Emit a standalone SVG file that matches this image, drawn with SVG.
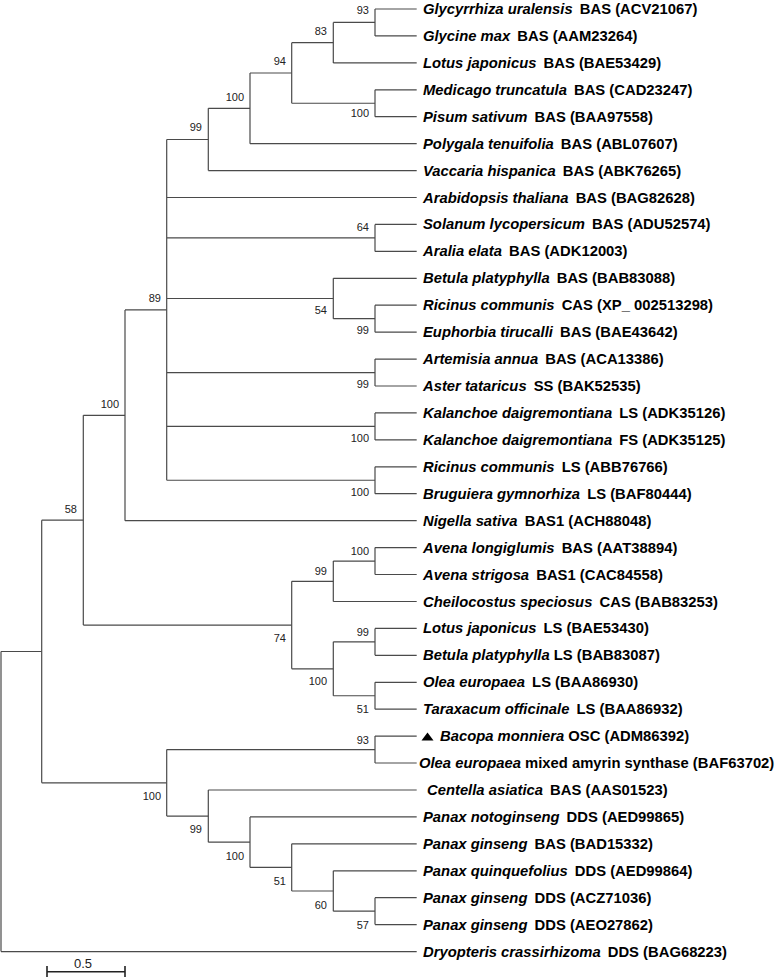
<svg xmlns="http://www.w3.org/2000/svg" width="780" height="977" viewBox="0 0 780 977">
<style>
.t{font-family:"Liberation Sans",Arial,Helvetica,sans-serif;font-weight:bold;font-size:14.8px;fill:#000}
.i{font-style:italic}
.b{font-family:"Liberation Sans",Arial,Helvetica,sans-serif;font-size:11px;fill:#222;text-anchor:end}
.br{stroke:#4a4a4a;stroke-width:1.2;fill:none}
</style>
<rect width="780" height="977" fill="#fff"/>
<g id="connectors" class="br">
<path id="e-root" d="M1 651.5V951.6M1 651.5H41.7M1 951.6H416.7"/>
<path id="e-nA" d="M41.7 520.2V782.8M41.7 520.2H83.3M41.7 782.8H166.7"/>
<path id="e-n58" d="M83.3 415.3V625.05M83.3 415.3H125M83.3 625.05H291.7"/>
<path id="e-n100b" d="M125 309.9V520.7M125 309.9H166.7M125 520.7H416.7"/>
<path id="e-n89" d="M166.7 139.5V480.25M166.7 139.5H208.3M166.7 197.5H416.7M166.7 237.9H375M166.7 298.5H333.3M166.7 372.55H375M166.7 426.4H375M166.7 480.25H375"/>
<path id="e-n99a" d="M208.3 108.3V170.6M208.3 108.3H250M208.3 170.6H416.7"/>
<path id="e-n100a" d="M250 73V143.7M250 73H291.7M250 143.7H416.7"/>
<path id="e-n94" d="M291.7 42.7V103.25M291.7 42.7H333.3M291.7 103.25H375"/>
<path id="e-n83" d="M333.3 22.45V62.9M333.3 22.45H375M333.3 62.9H416.7"/>
<path id="e-n93a" d="M375 9V35.9M375 9H416.7M375 35.9H416.7"/>
<path id="e-nMP" d="M375 89.8V116.7M375 89.8H416.7M375 116.7H416.7"/>
<path id="e-n64" d="M375 224.4V251.4M375 224.4H416.7M375 251.4H416.7"/>
<path id="e-n54" d="M333.3 278.3V318.7M333.3 278.3H416.7M333.3 318.7H375"/>
<path id="e-nRE" d="M375 305.2V332.2M375 305.2H416.7M375 332.2H416.7"/>
<path id="e-nAA" d="M375 359.1V386M375 359.1H416.7M375 386H416.7"/>
<path id="e-nKal" d="M375 412.9V439.9M375 412.9H416.7M375 439.9H416.7"/>
<path id="e-nRB" d="M375 466.8V493.7M375 466.8H416.7M375 493.7H416.7"/>
<path id="e-n74" d="M291.7 581.3V668.8M291.7 581.3H333.3M291.7 668.8H333.3"/>
<path id="e-n99b" d="M333.3 561.05V601.5M333.3 561.05H375M333.3 601.5H416.7"/>
<path id="e-nAv" d="M375 547.6V574.5M375 547.6H416.7M375 574.5H416.7"/>
<path id="e-n100c" d="M333.3 641.85V695.75M333.3 641.85H375M333.3 695.75H375"/>
<path id="e-nLB" d="M375 628.4V655.3M375 628.4H416.7M375 655.3H416.7"/>
<path id="e-nOT" d="M375 682.3V709.2M375 682.3H416.7M375 709.2H416.7"/>
<path id="e-n100e" d="M166.7 749.55V816.1M166.7 749.55H375M166.7 816.1H208.3"/>
<path id="e-nBO" d="M375 736.1V763M375 736.1H416.7M375 763H416.7"/>
<path id="e-n99c" d="M208.3 790V842.15M208.3 790H416.7M208.3 842.15H250"/>
<path id="e-n100d" d="M250 816.9V867.4M250 816.9H416.7M250 867.4H291.7"/>
<path id="e-n51" d="M291.7 843.8V891M291.7 843.8H416.7M291.7 891H333.3"/>
<path id="e-n60" d="M333.3 870.8V911.15M333.3 870.8H416.7M333.3 911.15H375"/>
<path id="e-n57" d="M375 897.7V924.6M375 897.7H416.7M375 924.6H416.7"/>
</g>
<g id="support">
<g id="s-n93a"><text class="b" x="369" y="14">93</text></g>
<g id="s-n83"><text class="b" x="327" y="35">83</text></g>
<g id="s-n94"><text class="b" x="286" y="65">94</text></g>
<g id="s-n100a"><text class="b" x="244" y="101">100</text></g>
<g id="s-nMP"><text class="b" x="369" y="117">100</text></g>
<g id="s-n99a"><text class="b" x="202" y="131">99</text></g>
<g id="s-n64"><text class="b" x="369" y="231">64</text></g>
<g id="s-n89"><text class="b" x="161" y="302">89</text></g>
<g id="s-n54"><text class="b" x="327" y="314">54</text></g>
<g id="s-nRE"><text class="b" x="369" y="334">99</text></g>
<g id="s-nAA"><text class="b" x="369" y="388">99</text></g>
<g id="s-nKal"><text class="b" x="369" y="442">100</text></g>
<g id="s-nRB"><text class="b" x="369" y="496">100</text></g>
<g id="s-n100b"><text class="b" x="119" y="408">100</text></g>
<g id="s-n58"><text class="b" x="77" y="513">58</text></g>
<g id="s-nAv"><text class="b" x="369" y="555">100</text></g>
<g id="s-n99b"><text class="b" x="327" y="575">99</text></g>
<g id="s-n74"><text class="b" x="286" y="642">74</text></g>
<g id="s-nLB"><text class="b" x="369" y="636">99</text></g>
<g id="s-n100c"><text class="b" x="327" y="685">100</text></g>
<g id="s-nOT"><text class="b" x="369" y="713">51</text></g>
<g id="s-nBO"><text class="b" x="369" y="744">93</text></g>
<g id="s-n100e"><text class="b" x="161" y="800">100</text></g>
<g id="s-n99c"><text class="b" x="202" y="833">99</text></g>
<g id="s-n100d"><text class="b" x="244" y="860">100</text></g>
<g id="s-n51"><text class="b" x="286" y="885">51</text></g>
<g id="s-n60"><text class="b" x="327" y="909">60</text></g>
<g id="s-n57"><text class="b" x="369" y="929">57</text></g>
</g>
<g id="leaves">
<g id="L0"><text class="t" x="423" y="14"><tspan class="i">Glycyrrhiza uralensis</tspan><tspan dx="3"> BAS (ACV21067)</tspan></text></g>
<g id="L1"><text class="t" x="423" y="40.9"><tspan class="i">Glycine max</tspan><tspan dx="3"> BAS (AAM23264)</tspan></text></g>
<g id="L2"><text class="t" x="423" y="67.9"><tspan class="i">Lotus japonicus</tspan><tspan dx="3"> BAS (BAE53429)</tspan></text></g>
<g id="L3"><text class="t" x="423" y="94.8"><tspan class="i">Medicago truncatula</tspan><tspan dx="3"> BAS (CAD23247)</tspan></text></g>
<g id="L4"><text class="t" x="423" y="121.7"><tspan class="i">Pisum sativum</tspan><tspan dx="3"> BAS (BAA97558)</tspan></text></g>
<g id="L5"><text class="t" x="423" y="148.7"><tspan class="i">Polygala tenuifolia</tspan><tspan dx="3"> BAS (ABL07607)</tspan></text></g>
<g id="L6"><text class="t" x="423" y="175.6"><tspan class="i">Vaccaria hispanica</tspan><tspan dx="3"> BAS (ABK76265)</tspan></text></g>
<g id="L7"><text class="t" x="423" y="202.5"><tspan class="i">Arabidopsis thaliana</tspan><tspan dx="3"> BAS (BAG82628)</tspan></text></g>
<g id="L8"><text class="t" x="423" y="229.4"><tspan class="i">Solanum lycopersicum</tspan><tspan dx="3"> BAS (ADU52574)</tspan></text></g>
<g id="L9"><text class="t" x="423" y="256.4"><tspan class="i">Aralia elata</tspan><tspan dx="3"> BAS (ADK12003)</tspan></text></g>
<g id="L10"><text class="t" x="423" y="283.3"><tspan class="i">Betula platyphylla</tspan><tspan dx="3"> BAS (BAB83088)</tspan></text></g>
<g id="L11"><text class="t" x="423" y="310.2"><tspan class="i">Ricinus communis</tspan><tspan dx="3"> CAS (XP_ 002513298)</tspan></text></g>
<g id="L12"><text class="t" x="423" y="337.2"><tspan class="i">Euphorbia tirucalli</tspan><tspan dx="3"> BAS (BAE43642)</tspan></text></g>
<g id="L13"><text class="t" x="423" y="364.1"><tspan class="i">Artemisia annua</tspan><tspan dx="3"> BAS (ACA13386)</tspan></text></g>
<g id="L14"><text class="t" x="423" y="391"><tspan class="i">Aster tataricus</tspan><tspan dx="3"> SS (BAK52535)</tspan></text></g>
<g id="L15"><text class="t" x="423" y="417.9"><tspan class="i">Kalanchoe daigremontiana</tspan><tspan dx="3"> LS (ADK35126)</tspan></text></g>
<g id="L16"><text class="t" x="423" y="444.9"><tspan class="i">Kalanchoe daigremontiana</tspan><tspan dx="3"> FS (ADK35125)</tspan></text></g>
<g id="L17"><text class="t" x="423" y="471.8"><tspan class="i">Ricinus communis</tspan><tspan dx="3"> LS (ABB76766)</tspan></text></g>
<g id="L18"><text class="t" x="423" y="498.7"><tspan class="i">Bruguiera gymnorhiza</tspan><tspan dx="3"> LS (BAF80444)</tspan></text></g>
<g id="L19"><text class="t" x="423" y="525.7"><tspan class="i">Nigella sativa</tspan><tspan dx="3"> BAS1 (ACH88048)</tspan></text></g>
<g id="L20"><text class="t" x="423" y="552.6"><tspan class="i">Avena longiglumis</tspan><tspan dx="3"> BAS (AAT38894)</tspan></text></g>
<g id="L21"><text class="t" x="423" y="579.5"><tspan class="i">Avena strigosa</tspan><tspan dx="3"> BAS1 (CAC84558)</tspan></text></g>
<g id="L22"><text class="t" x="423" y="606.5"><tspan class="i">Cheilocostus speciosus</tspan><tspan dx="3"> CAS (BAB83253)</tspan></text></g>
<g id="L23"><text class="t" x="423" y="633.4"><tspan class="i">Lotus japonicus</tspan><tspan dx="3"> LS (BAE53430)</tspan></text></g>
<g id="L24"><text class="t" x="423" y="660.3"><tspan class="i">Betula platyphylla</tspan> LS (BAB83087)</text></g>
<g id="L25"><text class="t" x="423" y="687.3"><tspan class="i">Olea europaea</tspan><tspan dx="3"> LS (BAA86930)</tspan></text></g>
<g id="L26"><text class="t" x="423" y="714.2"><tspan class="i">Taraxacum officinale</tspan><tspan dx="3"> LS (BAA86932)</tspan></text></g>
<g id="L27"><polygon points="427.5,732.5 421.5,740.5 433.5,740.5" fill="#000"/><text class="t" x="440" y="741.1"><tspan class="i">Bacopa monniera</tspan> OSC (ADM86392)</text></g>
<g id="L28"><text class="t" x="419" y="768"><tspan class="i">Olea europaea</tspan> mixed amyrin synthase (BAF63702)</text></g>
<g id="L29"><text class="t" x="427" y="795"><tspan class="i">Centella asiatica</tspan><tspan dx="3"> BAS (AAS01523)</tspan></text></g>
<g id="L30"><text class="t" x="423" y="821.9"><tspan class="i">Panax notoginseng</tspan><tspan dx="3"> DDS (AED99865)</tspan></text></g>
<g id="L31"><text class="t" x="423" y="848.8"><tspan class="i">Panax ginseng</tspan><tspan dx="3"> BAS (BAD15332)</tspan></text></g>
<g id="L32"><text class="t" x="423" y="875.8"><tspan class="i">Panax quinquefolius</tspan><tspan dx="3"> DDS (AED99864)</tspan></text></g>
<g id="L33"><text class="t" x="423" y="902.7"><tspan class="i">Panax ginseng</tspan><tspan dx="3"> DDS (ACZ71036)</tspan></text></g>
<g id="L34"><text class="t" x="423" y="929.6"><tspan class="i">Panax ginseng</tspan><tspan dx="3"> DDS (AEO27862)</tspan></text></g>
<g id="L35"><text class="t" x="423" y="956.6"><tspan class="i">Dryopteris crassirhizoma</tspan><tspan dx="3"> DDS (BAG68223)</tspan></text></g>
</g>
<g id="scale">
<path d="M47 971.7H125M47 966V977M125 966V977" stroke="#222" stroke-width="1.6" fill="none"/>
<text x="83" y="968" font-family="Liberation Sans, Arial, sans-serif" font-size="13" text-anchor="middle" fill="#222">0.5</text>
</g>
</svg>
